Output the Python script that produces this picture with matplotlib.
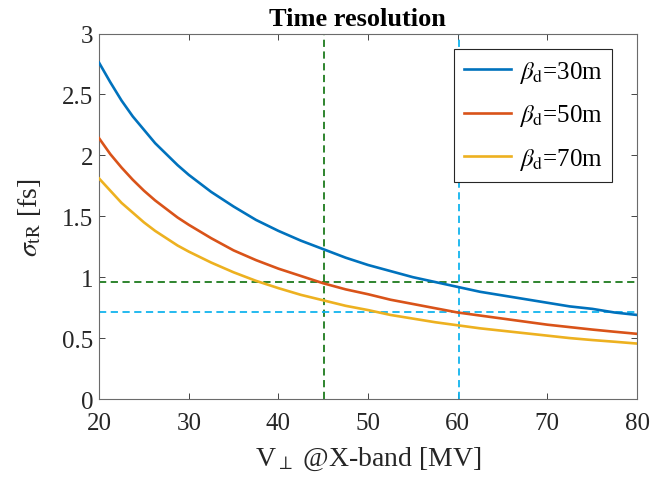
import matplotlib
matplotlib.use('Agg')
import matplotlib.pyplot as plt
import numpy as np

plt.rcParams['font.family'] = ['Liberation Serif', 'DejaVu Serif']
plt.rcParams['mathtext.fontset'] = 'stix'

# values
v_perp = [20, 21.25, 22.5, 23.75, 25, 26.25, 27.5, 28.75, 30, 32.5, 35, 37.5, 40, 42.5, 45,
          47.5, 50, 52.5, 55, 57.5, 60, 62.5, 65, 67.5, 70, 72.5, 75, 77.5, 80]
sigma_30m = [2.76, 2.60, 2.45, 2.32, 2.21, 2.10, 2.01, 1.92, 1.84, 1.70, 1.58, 1.47, 1.38, 1.30, 1.23,
             1.16, 1.10, 1.05, 1.00, 0.96, 0.92, 0.88, 0.85, 0.82, 0.79, 0.76, 0.74, 0.71, 0.69]
sigma_50m = [2.14, 2.01, 1.90, 1.80, 1.71, 1.63, 1.56, 1.49, 1.43, 1.32, 1.22, 1.14, 1.07, 1.01, 0.95,
             0.90, 0.86, 0.815, 0.78, 0.745, 0.71, 0.685, 0.66, 0.635, 0.61, 0.59, 0.57, 0.552, 0.535]
sigma_70m = [1.81, 1.71, 1.61, 1.53, 1.45, 1.38, 1.32, 1.26, 1.21, 1.12, 1.04, 0.97, 0.91, 0.855, 0.81,
             0.765, 0.73, 0.69, 0.66, 0.63, 0.605, 0.58, 0.56, 0.54, 0.52, 0.50, 0.484, 0.47, 0.455]
labels = [r'$\beta_{\rm d}$=30m', r'$\beta_{\rm d}$=50m', r'$\beta_{\rm d}$=70m']
colors = ['#0072BD', '#D95319', '#EDB120']

green_v, green_h = 45.1, 0.963
cyan_v, cyan_h = 60.2, 0.712

fig = plt.figure(figsize=(6.52, 4.89), dpi=100)
ax = fig.add_axes([0.152, 0.182, 0.825, 0.7474])

for y, lab, c in zip([sigma_30m, sigma_50m, sigma_70m], labels, colors):
    ax.plot(v_perp, y, color=c, lw=1.9, label=lab, zorder=3)

ax.axvline(green_v, color='#1E7B1E', ls='--', lw=1.3, dashes=(4, 2.5), zorder=2)
ax.axhline(green_h, color='#1E7B1E', ls='--', lw=1.3, dashes=(4, 2.5), zorder=2)
ax.axvline(cyan_v, color='#12B4EE', ls='--', lw=1.3, dashes=(4, 2.5), zorder=2)
ax.axhline(cyan_h, color='#12B4EE', ls='--', lw=1.3, dashes=(4, 2.5), zorder=2)

ax.set_xlim(20, 80)
ax.set_ylim(0, 3)
ax.set_xticks(np.arange(20, 81, 10))
ax.set_yticks([0, 0.5, 1, 1.5, 2, 2.5, 3])
ax.set_yticklabels(['0', '0.5', '1', '1.5', '2', '2.5', '3'])
ax.tick_params(direction='in', top=True, right=True, labelsize=18, colors='#262626',
               length=4, width=0.6)
ax.tick_params(axis='x', pad=9)
ax.tick_params(axis='y', pad=4)
for s in ax.spines.values():
    s.set_color('#6b6b6b')
    s.set_linewidth(0.8)

ax.set_xlabel(r'V$_\perp$ @X-band [MV]', fontsize=20, color='#262626', labelpad=8)
ax.set_ylabel(r'$\sigma_{\rm tR}$ [fs]', fontsize=20, color='#262626', labelpad=14)
ax.set_title('Time resolution', fontsize=19, fontweight='bold', pad=6, x=0.48)

leg = ax.legend(loc='upper right', bbox_to_anchor=(0.954, 0.958), borderaxespad=0,
                fontsize=18, fancybox=False, edgecolor='#262626', framealpha=1,
                handlelength=1.9, handletextpad=0.3, borderpad=0.4, labelspacing=0.7)
leg.get_frame().set_linewidth(0.8)

fig.savefig('out.png', dpi=100)
